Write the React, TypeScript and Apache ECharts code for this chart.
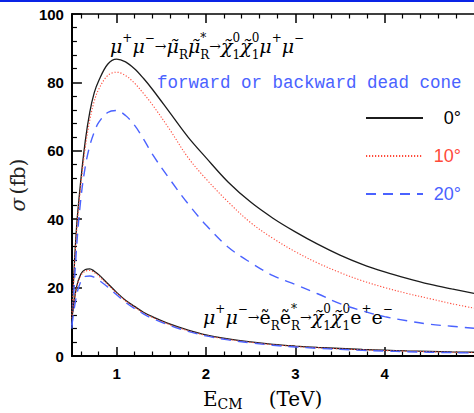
import React, { useEffect, useRef } from 'react';
import * as echarts from 'echarts';

// Centre-of-mass energy grid (TeV)
const energyTeV = [0.5, 0.55, 0.6, 0.65, 0.7, 0.75, 0.8, 0.9, 1.0, 1.1, 1.2, 1.3, 1.4, 1.6, 1.8, 2.0, 2.25, 2.5, 2.75, 3.0, 3.25, 3.5, 3.75, 4.0, 4.25, 4.5, 4.75, 5.0];

// mu+ mu- -> smuon_R smuon_R* -> chi chi mu+ mu-  (sigma, fb)
const smuonCone0 = [12, 37, 51.5, 63, 71.3, 77, 80.5, 85.3, 86.8, 86, 84, 81.2, 78, 71, 64, 58, 50.8, 45, 40.3, 36.3, 32.7, 29.5, 26.8, 24.6, 22.7, 21, 19.6, 18.3];
const smuonCone10 = [12, 35.5, 50, 61, 69, 74.5, 78, 82, 83, 82, 79.8, 76.8, 73.5, 66, 58, 51.8, 45, 39, 34.4, 30.5, 27.2, 24.4, 22, 20, 18.3, 16.8, 15.3, 14];
const smuonCone20 = [8, 31, 46, 55.5, 61.5, 65.5, 68.3, 71.2, 71.8, 70.3, 67.5, 63.5, 59, 51.5, 44.5, 38.3, 31.8, 27.3, 23.5, 20.9, 18.2, 15.3, 13.2, 11.5, 10.3, 9.3, 8.7, 8.1];

// mu+ mu- -> selectron_R selectron_R* -> chi chi e+ e-  (sigma, fb)
const selecCone0 = [11, 20, 24, 25.3, 25.5, 24.8, 23.8, 21.2, 18.6, 16.3, 14.5, 12.8, 11.5, 9.3, 7.6, 6.2, 5.0, 4.1, 3.4, 2.9, 2.5, 2.2, 1.9, 1.7, 1.5, 1.35, 1.2, 1.1];
const selecCone10 = [11, 19.6, 23.5, 24.8, 25.0, 24.4, 23.4, 20.9, 18.4, 16.1, 14.3, 12.6, 11.3, 9.1, 7.4, 6.0, 4.85, 4.0, 3.3, 2.8, 2.4, 2.1, 1.8, 1.6, 1.4, 1.25, 1.1, 1.0];
const selecCone20 = [9, 17.5, 21.8, 23.3, 23.4, 23, 22.2, 20.2, 17.9, 15.7, 13.9, 12.3, 11.0, 8.9, 7.2, 5.9, 4.7, 3.85, 3.15, 2.65, 2.25, 1.95, 1.65, 1.45, 1.25, 1.1, 1.0, 0.9];

const coneLabels = ['0°', '10°', '20°'];
const majorTicksX = [1, 2, 3, 4];
const minorTicksX = [0.6, 0.8, 1.2, 1.4, 1.6, 1.8, 2.2, 2.4, 2.6, 2.8, 3.2, 3.4, 3.6, 3.8, 4.2, 4.4, 4.6, 4.8];

const BLACK = '#1c1c1c';
const RED = '#ff4a3a';
const BLUE = '#4a62ff';
const SERIF = 'DejaVu Serif';
const SANS = 'Liberation Sans';

const pairs = (ys: number[]) => energyTeV.map((x, i) => [x, ys[i]]);

const INK = '#151515';
const richFormula = {
  m: { fontFamily: SERIF, fontStyle: 'italic', fontSize: 19, lineHeight: 29, color: INK },
  n: { fontFamily: SERIF, fontSize: 19, lineHeight: 29, color: INK },
  a: { fontFamily: SERIF, fontSize: 14, lineHeight: 29, color: INK },
  sup: { fontFamily: SERIF, fontSize: 12, lineHeight: 11, verticalAlign: 'top', color: INK },
  sz: { fontFamily: SERIF, fontSize: 12, lineHeight: 11, verticalAlign: 'top', width: 0.01, color: INK },
  sub: { fontFamily: SERIF, fontSize: 12, lineHeight: 11, verticalAlign: 'bottom', color: INK },
};

const formulaSmuon =
  '{m|μ}{sup|+}{m|μ}{sup|−}{a|→}{m|μ\u0303}{sub|R}{m|μ\u0303}{sz|*}{sub|R}{a|→}{m|χ\u0303}{sz|0}{sub|1}{m|χ\u0303}{sz|0}{sub|1}{m|μ}{sup|+}{m|μ}{sup|−}';
const formulaSelectron =
  '{m|μ}{sup|+}{m|μ}{sup|−}{a|→}{n|ẽ}{sub|R}{n|ẽ}{sz|*}{sub|R}{a|→}{m|χ\u0303}{sz|0}{sub|1}{m|χ\u0303}{sz|0}{sub|1}{n|e}{sup|+}{n|e}{sup|−}';

export default function App() {
  const ref = useRef<HTMLDivElement>(null);
  useEffect(() => {
    const chart = echarts.init(ref.current!, null, { renderer: 'svg' });
    const xBase = { type: 'value', gridIndex: 0, min: 0.5, max: 5, splitLine: { show: false } };
    const lineSeries = (name: string, ys: number[], color: string, type: any, width: number) => ({
      type: 'line',
      name,
      data: pairs(ys),
      symbol: 'none',
      smooth: 0.35,
      lineStyle: { color, type, width },
      itemStyle: { color },
      emphasis: { disabled: true },
    });
    chart.setOption({
      animation: false,
      backgroundColor: '#fff',
      grid: { left: 71, top: 14, right: -12.5, bottom: 57 },
      legend: {
        data: coneLabels,
        orient: 'vertical',
        left: 360,
        top: 104,
        itemWidth: 57,
        itemHeight: 14,
        itemGap: 20,
        selectedMode: false,
        itemStyle: { opacity: 0, borderWidth: 0 },
        formatter: (name: string) => `{k${coneLabels.indexOf(name)}|${name}}`,
        textStyle: {
          rich: {
            k0: { color: '#000', width: 33, align: 'right', fontSize: 18, fontFamily: SANS },
            k1: { color: RED, width: 33, align: 'right', fontSize: 18, fontFamily: SANS },
            k2: { color: BLUE, width: 33, align: 'right', fontSize: 18, fontFamily: SANS },
          },
        },
      },
      xAxis: [
        {
          ...xBase,
          position: 'bottom',
          axisLine: { show: true, lineStyle: { color: '#000', width: 2 } },
          axisTick: { show: true, inside: true, length: 9, customValues: majorTicksX, lineStyle: { color: '#000', width: 1.5 } },
          axisLabel: { show: true, customValues: majorTicksX, margin: 10, color: '#000', fontFamily: SANS, fontWeight: 'bold', fontSize: 15 },
        },
        {
          ...xBase,
          position: 'bottom',
          axisLine: { show: false },
          axisTick: { show: true, inside: true, length: 4.5, customValues: minorTicksX, lineStyle: { color: '#000', width: 1.2 } },
          axisLabel: { show: false },
        },
        {
          ...xBase,
          position: 'top',
          axisLine: { show: true, lineStyle: { color: '#000', width: 1.5 } },
          axisTick: { show: true, inside: true, length: 9, customValues: majorTicksX, lineStyle: { color: '#000', width: 1.5 } },
          axisLabel: { show: false },
        },
        {
          ...xBase,
          position: 'top',
          axisLine: { show: false },
          axisTick: { show: true, inside: true, length: 4.5, customValues: minorTicksX, lineStyle: { color: '#000', width: 1.2 } },
          axisLabel: { show: false },
        },
      ],
      yAxis: {
        type: 'value',
        min: 0,
        max: 100,
        interval: 20,
        axisLine: { show: true, lineStyle: { color: '#000', width: 2 } },
        axisTick: { show: true, inside: true, length: 10, lineStyle: { color: '#000', width: 1.5 } },
        minorTick: { show: true, splitNumber: 5, length: 5, lineStyle: { color: '#000', width: 1.2 } },
        splitLine: { show: false },
        axisLabel: { margin: 8, color: '#000', fontFamily: SANS, fontWeight: 'bold', fontSize: 15 },
        name: '{s|σ} {p|(fb)}',
        nameLocation: 'middle',
        nameRotate: 90,
        nameGap: 38,
        nameTextStyle: {
          rich: {
            s: { fontFamily: SERIF, fontStyle: 'italic', fontSize: 20, color: '#222' },
            p: { fontFamily: SERIF, fontSize: 20, color: '#222' },
          },
        },
      },
      graphic: [
        { type: 'rect', left: 0, top: 0, shape: { width: 474, height: 2 }, style: { fill: '#0a24e6' }, silent: true },
        {
          type: 'text',
          x: 203,
          y: 387,
          silent: true,
          style: {
            text: '{e|E}{c|CM}{p|(TeV)}',
            rich: {
              e: { fontFamily: SERIF, fontSize: 20, lineHeight: 24, color: '#222' },
              c: { fontFamily: SERIF, fontSize: 14, lineHeight: 14, verticalAlign: 'bottom', color: '#222' },
              p: { fontFamily: SERIF, fontSize: 20, lineHeight: 24, color: '#222', padding: [0, 0, 0, 26] },
            },
          },
        },
        { type: 'text', x: 110, y: 31.5, silent: true, style: { text: formulaSmuon, rich: richFormula } },
        { type: 'text', x: 203, y: 302.5, silent: true, style: { text: formulaSelectron, rich: richFormula } },
        {
          type: 'text',
          x: 157,
          y: 74,
          silent: true,
          style: { text: 'forward or backward dead cone', fontFamily: 'Liberation Mono', fontSize: 17.5, fill: BLUE },
        },
      ],
      series: [
        lineSeries(coneLabels[0], smuonCone0, BLACK, 'solid', 1.3),
        lineSeries(coneLabels[1], smuonCone10, RED, [1.2, 1.8], 1.1),
        lineSeries(coneLabels[2], smuonCone20, BLUE, [10, 7], 1.4),
        lineSeries('selectron 0°', selecCone0, BLACK, 'solid', 1.3),
        lineSeries('selectron 10°', selecCone10, RED, [1.2, 1.8], 1.1),
        lineSeries('selectron 20°', selecCone20, BLUE, [10, 7], 1.4),
      ],
    });
    return () => chart.dispose();
  }, []);
  return <div ref={ref} style={{ position: 'fixed', left: 0, top: 0, width: 474, height: 413 }} />;
}
